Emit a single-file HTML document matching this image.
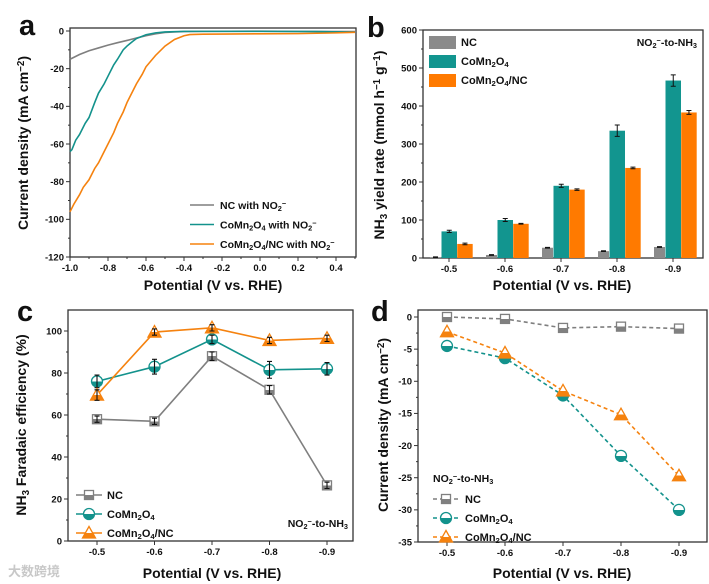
<!DOCTYPE html>
<html><head><meta charset="utf-8"><style>
html,body{margin:0;padding:0;background:#fff;}
svg{display:block;font-family:"Liberation Sans",Arial,sans-serif;font-weight:bold;}
</style></head><body>
<svg id="fig" width="709" height="584" viewBox="0 0 709 584" xmlns="http://www.w3.org/2000/svg">
<defs>
<linearGradient id="hg" x1="0" y1="0" x2="0" y2="1"><stop offset="0.5" stop-color="#fff"/><stop offset="0.5" stop-color="#808080"/></linearGradient>
<linearGradient id="ht" x1="0" y1="0" x2="0" y2="1"><stop offset="0.5" stop-color="#fff"/><stop offset="0.5" stop-color="#13928c"/></linearGradient>
<linearGradient id="ho" x1="0" y1="0" x2="0" y2="1"><stop offset="0.55" stop-color="#fff"/><stop offset="0.55" stop-color="#f5820f"/></linearGradient>
</defs>
</svg>
<script>
// ---------- Panel a data ----------
const aNC_x=[-1.0,-0.95,-0.9,-0.85,-0.8,-0.75,-0.7,-0.65,-0.6,-0.55,-0.5,-0.45,-0.4,-0.3,0,0.2,0.5];
const aNC_y=[-15,-12.5,-10.5,-9,-7.5,-6.2,-5,-3.7,-2.5,-1.5,-0.8,-0.5,-0.3,-0.2,-0.1,-0.2,-0.3];
const aCo_x=[-1.0,-0.99,-0.97,-0.95,-0.92,-0.9,-0.87,-0.85,-0.82,-0.8,-0.77,-0.75,-0.72,-0.7,-0.67,-0.65,-0.6,-0.55,-0.5,-0.4,0,0.3,0.5];
const aCo_y=[-64,-63,-58,-55,-49,-46,-38,-33,-28,-24,-18,-15,-10,-8,-5.5,-4,-2,-1,-0.5,-0.2,-0.2,-0.3,-0.6];
const aCN_x=[-1.0,-0.98,-0.95,-0.93,-0.9,-0.87,-0.85,-0.82,-0.8,-0.77,-0.75,-0.72,-0.7,-0.67,-0.65,-0.62,-0.6,-0.55,-0.5,-0.45,-0.4,-0.37,-0.35,-0.3,-0.2,0,0.2,0.4,0.5];
const aCN_y=[-96,-92,-87,-83,-79,-73,-70,-64,-60,-54,-49,-43,-38,-32,-28,-23,-19,-13,-8,-4.5,-2.5,-1.9,-1.8,-1.7,-1.6,-1.5,-1.4,-1,-0.7];
const aXt=[-1.0,-0.8,-0.6,-0.4,-0.2,0.0,0.2,0.4];
const aYt=[0,-20,-40,-60,-80,-100,-120];
// ---------- Panel b data ----------
const cats=["-0.5","-0.6","-0.7","-0.8","-0.9"];
const bNC=[2,8,27,18,29];
const bNCe=[1,1,1,1,1];
const bCo=[70,100,190,335,467];
const bCoe=[3,4,4,15,15];
const bCN=[37,90,180,237,383];
const bCNe=[2,1,2,2,5];
const bYt=[0,100,200,300,400,500,600];
// ---------- Panel c data ----------
const cNC=[58,57,88,72,26.5];
const cNCe=[1.5,1.5,2,2,1.5];
const cCo=[76,83,96,81.5,82];
const cCoe=[3,3.5,2,4,3];
const cCN=[69.5,99.5,101.5,95.5,96.5];
const cCNe=[2.5,1.5,1.5,1.5,1.5];
const cYt=[0,20,40,60,80,100];
// ---------- Panel d data ----------
const dNC=[0,-0.3,-1.7,-1.5,-1.8];
const dCo=[-4.5,-6.4,-12.2,-21.6,-30];
const dCN=[-2.3,-5.6,-11.5,-15.2,-24.7];
const dYt=[0,-5,-10,-15,-20,-25,-30,-35];

const NS="http://www.w3.org/2000/svg";
const svg=document.getElementById('fig');
function mk(tag,at,parent){const e=document.createElementNS(NS,tag);for(const k in at)e.setAttribute(k,at[k]);(parent||svg).appendChild(e);return e;}
function lin(d0,d1,r0,r1){return v=>r0+(v-d0)*(r1-r0)/(d1-d0);}
const GRAY="#7f7f7f",TEAL="#13928c",ORG="#f5820f";

function frame(x0,y0,x1,y1,name){
  const g=mk('g',{});
  
  
  const r=mk('rect',{x:x0,y:y0,width:x1-x0,height:y1-y0,fill:'none',stroke:'#333','stroke-width':1.3},g);
  
  
  return g;
}
function text(g,x,y,s,opt){const t=mk('text',Object.assign({x:x,y:y,'font-size':9.5,fill:'#111'},opt||{}),g);t.innerHTML=s;return t;}
function yTicks(g,x0,vals,sy,fmt,minor){
  vals.forEach(v=>{
    const y=sy(v);
    const l=mk('line',{x1:x0-4,x2:x0,y1:y,y2:y,stroke:'#333','stroke-width':1},g);
    
    
    const t=text(g,x0-6,y+3.3,fmt?fmt(v):v,{'text-anchor':'end'});
    
    
  });
  if(minor){for(let i=0;i<vals.length-1;i++){const y=sy((vals[i]+vals[i+1])/2);mk('line',{x1:x0-2,x2:x0,y1:y,y2:y,stroke:'#333','stroke-width':1},g);}}
}
function xTicks(g,y0,xs,labels,minorXs){
  xs.forEach((x,i)=>{
    const l=mk('line',{x1:x,x2:x,y1:y0,y2:y0+4,stroke:'#333','stroke-width':1},g);
    
    
    const t=text(g,x,y0+14,labels[i],{'text-anchor':'middle'});
    
    
  });
  (minorXs||[]).forEach(x=>mk('line',{x1:x,x2:x,y1:y0,y2:y0+2,stroke:'#333','stroke-width':1},g));
}
function title(g,x,y,s,rot,name){
  const t=mk('text',{x:x,y:y,'font-size':14,'text-anchor':'middle',fill:'#111',transform:rot?`rotate(-90 ${x} ${y})`:''},g);
  t.innerHTML=s;
  
  
}
function letter(x,y,s){const t=mk('text',{x:x,y:y,'font-size':29,fill:'#111'});t.textContent=s;
  
  }
const sub=s=>`<tspan font-size="70%" baseline-shift="-25%">${s}</tspan>`;
const sup=s=>`<tspan font-size="70%" baseline-shift="45%">${s}</tspan>`;

// ================= Panel a =================
{
  const sx=lin(-1.0,0.4,70,336), sy=lin(0,-120,31,257);
  const g=frame(70,28,356,257,'panel-a');
  letter(19,35,'a');
  yTicks(g,70,aYt,sy,null,true);
  xTicks(g,257,aXt.map(sx),aXt.map(v=>v.toFixed(1)),aXt.map(v=>sx(v+0.1)).filter(x=>x<356));
  title(g,213,290,'Potential (V vs. RHE)',false,'x-axis-title');
  title(g,28,143,'Current density (mA cm'+sup('−2')+')',true,'y-axis-title');
  const series=[[aNC_x,aNC_y,GRAY,'curve-nc'],[aCo_x,aCo_y,TEAL,'curve-comn2o4'],[aCN_x,aCN_y,ORG,'curve-comn2o4-nc']];
  series.forEach(([xs,ys,c,n])=>{
    const p=mk('polyline',{points:xs.map((x,i)=>sx(x)+','+sy(ys[i])).join(' '),fill:'none',stroke:c,'stroke-width':1.6},g);
    
    
  });
  const leg=[['NC with NO'+sub('2')+sup('−'),GRAY],['CoMn'+sub('2')+'O'+sub('4')+' with NO'+sub('2')+sup('−'),TEAL],['CoMn'+sub('2')+'O'+sub('4')+'/NC with NO'+sub('2')+sup('−'),ORG]];
  leg.forEach(([s,c],i)=>{
    const y=205+i*19.5;
    const e=mk('g',{},g);
    
    
    mk('line',{x1:190,x2:214,y1:y,y2:y,stroke:c,'stroke-width':1.6},e);
    text(e,220,y+4,s,{'font-size':10.5});
  });
}
// ================= Panel b =================
{
  const cx=[449,505,561,617,673];
  const sy=lin(0,600,258,30);
  const g=frame(423,30,703,258,'panel-b');
  letter(367,37,'b');
  yTicks(g,423,bYt,sy,null,true);
  xTicks(g,258,cx,cats);
  title(g,562,290,'Potential (V vs. RHE)',false,'x-axis-title');
  title(g,384,145,'NH'+sub('3')+' yield rate (mmol h'+sup('−1')+' g'+sup('−1')+')',true,'y-axis-title');
  const groups=[[bNC,bNCe,'#8a8a8a',-19,11,'bar-nc'],[bCo,bCoe,'#12958f',-7.5,15.5,'bar-comn2o4'],[bCN,bCNe,'#ff7a00',8.2,15.5,'bar-comn2o4-nc']];
  groups.forEach(([vals,errs,c,off,w,n])=>{
    vals.forEach((v,i)=>{
      const x=cx[i]+off;
      const r=mk('rect',{x:x,y:sy(v),width:w,height:258-sy(v),fill:c},g);
      
      
      const mx=x+w/2,y1=sy(v+errs[i]),y2=sy(v-errs[i]);
      mk('path',{d:`M${mx},${y1}V${y2}M${mx-2.5},${y1}H${mx+2.5}M${mx-2.5},${y2}H${mx+2.5}`,stroke:'#111','stroke-width':1,fill:'none'},g);
    });
  });
  const leg=[['NC','#8a8a8a'],['CoMn'+sub('2')+'O'+sub('4'),'#12958f'],['CoMn'+sub('2')+'O'+sub('4')+'/NC','#ff7a00']];
  leg.forEach(([s,c],i)=>{
    const y=36+i*19;
    const e=mk('g',{},g);
    
    
    mk('rect',{x:429,y:y,width:27,height:13,fill:c},e);
    text(e,461,y+10,s,{'font-size':11});
  });
  const t=text(g,697,46,'NO'+sub('2')+sup('−')+'-to-NH'+sub('3'),{'font-size':10.5,'text-anchor':'end'});
  
  
}
// marker drawing
function marker(g,shape,x,y,c,fillId){
  if(shape==='sq') mk('rect',{x:x-4.5,y:y-4.5,width:9,height:9,fill:`url(#${fillId})`,stroke:c,'stroke-width':1.3},g);
  else if(shape==='ci') mk('circle',{cx:x,cy:y,r:5.5,fill:`url(#${fillId})`,stroke:c,'stroke-width':1.3},g);
  else mk('path',{d:`M${x},${y-6.5}L${x+6.5},${y+5}L${x-6.5},${y+5}Z`,fill:`url(#${fillId})`,stroke:c,'stroke-width':1.3},g);
}
// ================= Panel c =================
{
  const cx=[97,154.5,212,269.5,327];
  const sy=lin(0,100,541,331);
  const g=frame(68,310,353,541,'panel-c');
  letter(17,321,'c');
  yTicks(g,68,cYt,sy,null,true);
  xTicks(g,541,cx,cats);
  title(g,212,578,'Potential (V vs. RHE)',false,'x-axis-title');
  title(g,26,425,'NH'+sub('3')+' Faradaic efficiency (%)',true,'y-axis-title');
  const series=[[cNC,cNCe,GRAY,'sq','hg','series-nc'],[cCo,cCoe,TEAL,'ci','ht','series-comn2o4'],[cCN,cCNe,ORG,'tr','ho','series-comn2o4-nc']];
  series.forEach(([vals,errs,c,sh,fid,n])=>{
    const s=mk('g',{},g);
    
    
    mk('polyline',{points:vals.map((v,i)=>cx[i]+','+sy(v)).join(' '),fill:'none',stroke:c,'stroke-width':1.6},s);
    vals.forEach((v,i)=>{
      const y1=sy(v+errs[i]),y2=sy(v-errs[i]),x=cx[i];
      marker(s,sh,x,sy(v),c,fid);
      mk('path',{d:`M${x},${y1}V${y2}M${x-2.5},${y1}H${x+2.5}M${x-2.5},${y2}H${x+2.5}`,stroke:'#111','stroke-width':1.1,fill:'none'},s);
    });
  });
  const leg=[['NC',GRAY,'sq','hg'],['CoMn'+sub('2')+'O'+sub('4'),TEAL,'ci','ht'],['CoMn'+sub('2')+'O'+sub('4')+'/NC',ORG,'tr','ho']];
  leg.forEach(([s,c,sh,f],i)=>{
    const y=495+i*19;
    const e=mk('g',{},g);
    
    
    mk('line',{x1:76,x2:102,y1:y,y2:y,stroke:c,'stroke-width':1.6},e);
    marker(e,sh,89,y,c,f);
    text(e,107,y+4,s,{'font-size':11});
  });
  const t=text(g,348,527,'NO'+sub('2')+sup('−')+'-to-NH'+sub('3'),{'font-size':10.5,'text-anchor':'end'});
  
  
  const w=text(g,8,576,'大数跨境',{'font-size':13,fill:'#c8c8c8','font-family':'"Liberation Sans","Noto Sans CJK SC",sans-serif'});
  
  
}
// ================= Panel d =================
{
  const cx=[447,505,563,621,679];
  const sy=lin(0,-35,317,542);
  const g=frame(418,310,707,542,'panel-d');
  letter(371,321,'d');
  yTicks(g,418,dYt,sy,null,true);
  xTicks(g,542,cx,cats);
  title(g,562,578,'Potential (V vs. RHE)',false,'x-axis-title');
  title(g,388,425,'Current density (mA cm'+sup('−2')+')',true,'y-axis-title');
  const series=[[dNC,GRAY,'sq','hg','series-nc'],[dCo,TEAL,'ci','ht','series-comn2o4'],[dCN,ORG,'tr','ho','series-comn2o4-nc']];
  series.forEach(([vals,c,sh,fid,n])=>{
    const s=mk('g',{},g);
    
    
    mk('polyline',{points:vals.map((v,i)=>cx[i]+','+sy(v)).join(' '),fill:'none',stroke:c,'stroke-width':1.6,'stroke-dasharray':'4,3'},s);
    vals.forEach((v,i)=>marker(s,sh,cx[i],sy(v),c,fid));
  });
  const t=text(g,433,482,'NO'+sub('2')+sup('−')+'-to-NH'+sub('3'),{'font-size':10.5});
  
  
  const leg=[['NC',GRAY,'sq','hg'],['CoMn'+sub('2')+'O'+sub('4'),TEAL,'ci','ht'],['CoMn'+sub('2')+'O'+sub('4')+'/NC',ORG,'tr','ho']];
  leg.forEach(([s,c,sh,f],i)=>{
    const y=499+i*19;
    const e=mk('g',{},g);
    
    
    mk('line',{x1:433,x2:459,y1:y,y2:y,stroke:c,'stroke-width':1.6,'stroke-dasharray':'4,3'},e);
    marker(e,sh,446,y,c,f);
    text(e,465,y+4,s,{'font-size':11});
  });
}
</script>
</body></html>
